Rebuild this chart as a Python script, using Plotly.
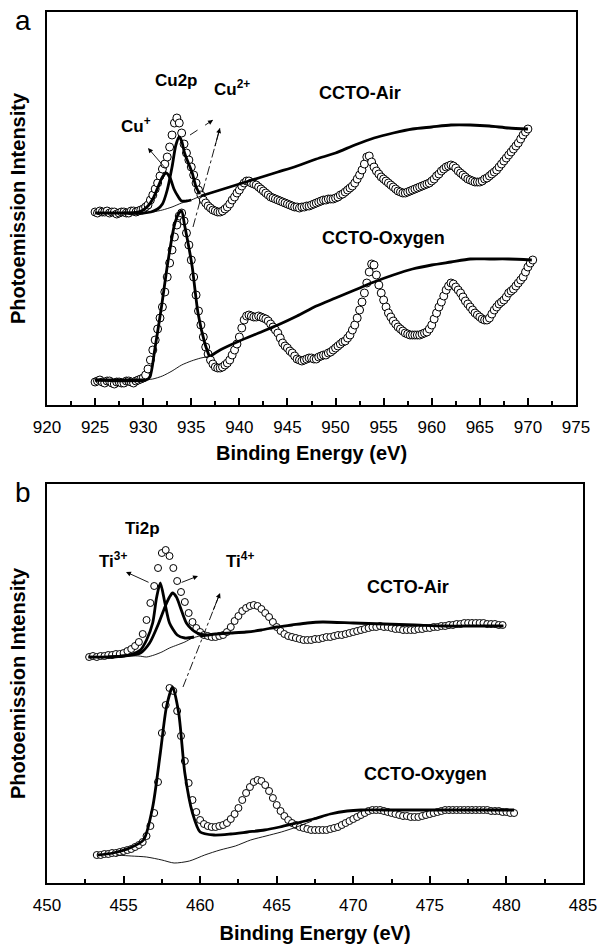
import plotly.graph_objects as go

# ---------------- Panel a : Cu2p ----------------
E_top = [925.0, 925.25, 925.5, 925.75, 926.0, 926.25, 926.5, 926.75,
         927.0, 927.25, 927.5, 927.75, 928.0, 928.25, 928.5, 928.75,
         929.0, 929.25, 929.5, 929.75, 930.0, 930.25, 930.5, 930.75,
         931.0, 931.25, 931.5, 931.75, 932.0, 932.25, 932.5, 932.75,
         933.0, 933.25, 933.5, 933.75, 934.0, 934.25, 934.5, 934.75,
         935.0, 935.25, 935.5, 935.75, 936.0, 936.25, 936.5, 936.75,
         937.0, 937.25, 937.5, 937.75, 938.0, 938.25, 938.5, 938.75,
         939.0, 939.25, 939.5, 939.75, 940.0, 940.25, 940.5, 940.75,
         941.0, 941.25, 941.5, 941.75, 942.0, 942.25, 942.5, 942.75,
         943.0, 943.25, 943.5, 943.75, 944.0, 944.25, 944.5, 944.75,
         945.0, 945.25, 945.5, 945.75, 946.0, 946.25, 946.5, 946.75,
         947.0, 947.25, 947.5, 947.75, 948.0, 948.25, 948.5, 948.75,
         949.0, 949.25, 949.5, 949.75, 950.0, 950.25, 950.5, 950.75,
         951.0, 951.25, 951.5, 951.75, 952.0, 952.25, 952.5, 952.75,
         953.0, 953.25, 953.5, 953.75, 954.0, 954.25, 954.5, 954.75,
         955.0, 955.25, 955.5, 955.75, 956.0, 956.25, 956.5, 956.75,
         957.0, 957.25, 957.5, 957.75, 958.0, 958.25, 958.5, 958.75,
         959.0, 959.25, 959.5, 959.75, 960.0, 960.25, 960.5, 960.75,
         961.0, 961.25, 961.5, 961.75, 962.0, 962.25, 962.5, 962.75,
         963.0, 963.25, 963.5, 963.75, 964.0, 964.25, 964.5, 964.75,
         965.0, 965.25, 965.5, 965.75, 966.0, 966.25, 966.5, 966.75,
         967.0, 967.25, 967.5, 967.75, 968.0, 968.25, 968.5, 968.75,
         969.0, 969.25, 969.5, 969.75, 970.0, 970.25, 970.5]

air_cu = [193, 192, 194, 193, 193, 194, 192, 193,
          193, 191, 192, 193, 193, 192, 192, 194,
          194, 193, 194, 195, 196, 198, 200, 205,
          210, 216, 222, 229, 236, 241, 248, 258,
          270, 282, 287, 282, 272, 261, 252, 245,
          238, 230, 222, 215, 210, 205, 202, 199,
          197, 195, 194, 193, 193, 194, 196, 198,
          201, 205, 208, 212, 215, 219, 222, 224,
          224, 222, 221, 220, 218, 216, 214, 212,
          210, 208, 207, 206, 205, 204, 203, 202,
          201, 200, 199, 198, 198, 197, 198, 198,
          199, 199, 200, 201, 202, 203, 204, 205,
          205, 206, 206, 206, 207, 208, 210, 211,
          213, 215, 217, 219, 222, 226, 230, 235,
          241, 248, 249, 243, 238, 234, 231, 228,
          226, 224, 222, 220, 218, 216, 214, 213,
          212, 212, 213, 214, 215, 216, 217, 218,
          219, 220, 221, 222, 224, 226, 229, 231,
          234, 236, 238, 239, 240, 239, 237, 234,
          232, 230, 228, 226, 225, 224, 223, 223,
          223, 224, 226, 227, 229, 231, 233, 235,
          238, 241, 244, 247, 250, 253, 256, 259,
          262, 266, 270, 273, 276, None, None]

oxy_cu = [23, 24, 25, 23, 22, 24, 24, 22,
          21, 23, 23, 22, 22, 24, 24, 23,
          22, 24, 25, 26, 27, 30, 36, 45,
          55, 65, 76, 87, 98, 113, 128, 142,
          155, 168, 180, 189, 192, 184, 172, 160,
          145, 128, 110, 94, 80, 68, 58, 51,
          45, 41, 38, 37, 37, 38, 40, 42,
          45, 50, 55, 61, 68, 77, 85, 89,
          90, 89, 88, 88, 89, 88, 87, 86,
          84, 81, 78, 75, 72, 67, 62, 59,
          57, 54, 52, 49, 46, 45, 44, 45,
          46, 47, 47, 46, 46, 48, 49, 50,
          50, 52, 53, 55, 57, 59, 61, 63,
          64, 67, 70, 75, 80, 87, 95, 103,
          112, 122, 133, 141, 140, 130, 120, 112,
          105, 98, 92, 88, 84, 81, 78, 76,
          74, 72, 71, 70, 70, 70, 70, 70,
          71, 72, 73, 76, 80, 86, 92, 98,
          103, 109, 115, 119, 122, 121, 118, 115,
          112, 108, 104, 101, 98, 95, 92, 90,
          88, 86, 85, 85, 87, 91, 95, 98,
          101, 103, 105, 108, 112, 114, 116, 119,
          122, 125, 128, 133, 138, 142, 145]

# fitted components, CCTO-Air (Cu2p)
E_cup = [928, 929, 929.8, 930.5, 931.0, 931.5, 932.0, 932.4, 932.8, 933.2, 933.6, 934.0, 934.5, 935.0]
cup_fit = [192, 192, 194, 199, 206, 217, 228, 232, 227, 216, 209, 204, 204, 205]
E_cu2 = [929, 930, 930.8, 931.5, 932.0, 932.5, 933.0, 933.4, 933.75, 934.0, 934.3, 934.7, 935.1, 935.5, 935.9]
cu2_fit = [192, 192, 193, 196, 201, 215, 238, 260, 268, 264, 252, 242, 232, 218, 211]
E_air_bg = [925, 928, 930, 931, 932, 933, 934, 935, 936, 938, 940, 942, 944, 946, 948,
            950, 952, 954, 956, 958, 960, 962, 964, 966, 968, 970]
air_bg = [192, 192, 192, 193, 195, 198, 202, 205, 209, 215, 221, 227, 233, 239, 246,
          252, 260, 267, 272, 276, 278, 280, 280, 279, 277, 276]

# fitted envelope, CCTO-Oxygen (Cu2p)
E_oxy_fit = [925, 930.3, 930.7, 931.2, 931.9, 932.6, 933.3, 933.8, 934.0, 934.3, 934.8, 935.1, 935.7, 936.4, 936.9]
oxy_fit = [25, 25, 28, 55, 98, 145, 182, 193, 194, 180, 155, 138, 92, 62, 48]
E_oxy_bg = [925, 930, 931, 932, 933, 934, 935, 936, 937, 938, 940, 942, 944, 946, 948,
            950, 952, 954, 956, 958, 960, 962, 964, 966, 968, 970.4]
oxy_bg = [25, 25, 26, 29, 34, 40, 44, 47, 49, 55, 64, 72, 80, 89, 99,
          107, 115, 123, 130, 136, 140, 143, 146, 146, 146, 145]

# ---------------- Panel b : Ti2p ----------------
E_bot = [452.75, 453.0, 453.25, 453.5, 453.75, 454.0, 454.25, 454.5, 454.75, 455.0,
         455.25, 455.5, 455.75, 456.0, 456.25, 456.5, 456.75, 457.0, 457.25, 457.5,
         457.75, 458.0, 458.25, 458.5, 458.75, 459.0, 459.25, 459.5, 459.75, 460.0,
         460.25, 460.5, 460.75, 461.0, 461.25, 461.5, 461.75, 462.0, 462.25, 462.5,
         462.75, 463.0, 463.25, 463.5, 463.75, 464.0, 464.25, 464.5, 464.75, 465.0,
         465.25, 465.5, 465.75, 466.0, 466.25, 466.5, 466.75, 467.0, 467.25, 467.5,
         467.75, 468.0, 468.25, 468.5, 468.75, 469.0, 469.25, 469.5, 469.75, 470.0,
         470.25, 470.5, 470.75, 471.0, 471.25, 471.5, 471.75, 472.0, 472.25, 472.5,
         472.75, 473.0, 473.25, 473.5, 473.75, 474.0, 474.25, 474.5, 474.75, 475.0,
         475.25, 475.5, 475.75, 476.0, 476.25, 476.5, 476.75, 477.0, 477.25, 477.5,
         477.75, 478.0, 478.25, 478.5, 478.75, 479.0, 479.25, 479.5, 479.75, 480.0,
         480.25, 480.5]

air_ti = [226, 227, 226, 227, 227, 228, 228, 229, 229, 230,
          232, 234, 237, 241, 249, 263, 280, 297, 315, 330,
          333, 327, 315, 302, 291, 281, 270, 261, 255, 251,
          248, 247, 246, 246, 247, 248, 251, 256, 262, 267,
          272, 275, 277, 278, 277, 274, 270, 266, 261, 256,
          252, 249, 247, 246, 245, 244, 243, 243, 243, 244,
          244, 245, 246, 246, 247, 248, 248, 249, 250, 251,
          252, 253, 254, 255, 256, 256, 257, 256, 256, 255,
          254, 254, 253, 253, 253, 253, 254, 254, 255, 255,
          256, 256, 257, 257, 258, 258, 259, 259, 260, 260,
          260, 260, 260, 260, 259, 259, 259, 258, 258, None,
          None, None]

oxy_ti = [None, None, 28, 28, 29, 29, 30, 30, 31, 32,
          33, 34, 36, 38, 41, 47, 57, 70, 101, 150,
          178, 195, 192, 172, 147, 122, 100, 83, 71, 63,
          59, 57, 56, 56, 57, 58, 60, 64, 69, 75,
          83, 90, 96, 101, 103, 102, 98, 92, 85, 78,
          72, 67, 63, 60, 58, 56, 55, 54, 53, 53,
          53, 53, 53, 54, 55, 56, 58, 60, 62, 64,
          66, 68, 70, 72, 73, 73, 73, 72, 71, 70,
          69, 68, 67, 67, 66, 66, 66, 67, 68, 69,
          70, 71, 72, 73, 73, 73, 73, 73, 73, 73,
          73, 73, 73, 73, 73, 72, 72, 72, 71, 71,
          70, 70]

E_ti3 = [454, 455, 455.6, 456.1, 456.5, 456.9, 457.15, 457.4, 457.7, 458.0, 458.5, 459.0, 459.6]
ti3_fit = [226, 227, 229, 233, 243, 260, 285, 300, 280, 260, 248, 245, 246]
E_ti4 = [455, 456.1, 456.7, 457.3, 457.7, 458.0, 458.2, 458.45, 458.7, 459.1, 459.5, 459.8, 460.3]
ti4_fit = [227, 230, 240, 260, 276, 286, 290, 286, 276, 260, 253, 250, 248]
E_air_ti_bg = [452.7, 454, 455, 456, 456.5, 457, 457.5, 458, 458.5, 459, 459.5, 460, 461, 462,
               463, 464, 465, 466, 467, 468, 470, 472, 474, 476, 478, 479.8]
air_ti_bg = [226, 226, 227, 227, 226, 228, 231, 235, 238, 241, 245, 247, 249, 250,
             251, 253, 256, 258, 260, 261, 260, 259, 258, 257, 257, 257]

E_oxy_ti_fit = [453.3, 454.3, 455.4, 456.3, 456.9, 457.4, 457.8, 458.2, 458.6, 459.0, 459.5, 460.0,
                460.9, 462.0, 463.1, 464.2, 465.2, 466.3, 467.4, 468.5, 469.6, 470.5, 472, 474,
                476, 478, 480.5]
oxy_ti_fit = [28, 30, 35, 43, 76, 130, 176, 196, 170, 110, 70, 51,
              48, 49, 51, 53, 56, 60, 64, 69, 72, 73, 73, 73,
              73, 73, 73]
E_oxy_ti_bg = [454.5, 455.5, 456.5, 457.5, 458.3, 459.3, 460.3, 461.3, 462.3, 463.3, 464.3, 465.3, 466.3, 467.3]
oxy_ti_bg = [28, 27, 26, 23, 20, 22, 28, 33, 37, 43, 47, 51, 56, 62]

FONT = "Liberation Sans, Arial, Helvetica, sans-serif"
W, H = 599, 945


def keep(E, V, lo, hi):
    """values only outside (lo, hi) -> thick segments of a baseline"""
    return [v if (e <= lo or e >= hi) else None for e, v in zip(E, V)]


fig = go.Figure()

marker_top = dict(symbol="circle", size=8, color="white", line=dict(color="black", width=1))
marker_bot = dict(symbol="circle", size=7, color="white", line=dict(color="black", width=1))
thick = dict(color="black", width=2.8, shape="spline", smoothing=0.7)
thin = dict(color="black", width=0.9, shape="spline", smoothing=0.7)

# --- panel a traces
for ys in (air_cu, oxy_cu):
    fig.add_trace(go.Scatter(x=E_top, y=ys, mode="markers", marker=marker_top,
                             xaxis="x", yaxis="y", hoverinfo="skip"))
for E, V in ((E_air_bg, air_bg), (E_oxy_bg, oxy_bg)):
    fig.add_trace(go.Scatter(x=E, y=V, mode="lines", line=thin, xaxis="x", yaxis="y"))
fig.add_trace(go.Scatter(x=E_air_bg, y=keep(E_air_bg, air_bg, 930, 936), mode="lines",
                         line=thick, xaxis="x", yaxis="y"))
fig.add_trace(go.Scatter(x=E_oxy_bg, y=keep(E_oxy_bg, oxy_bg, 930, 937), mode="lines",
                         line=thick, xaxis="x", yaxis="y"))
for E, V in ((E_cup, cup_fit), (E_cu2, cu2_fit), (E_oxy_fit, oxy_fit)):
    fig.add_trace(go.Scatter(x=E, y=V, mode="lines", line=thick, xaxis="x", yaxis="y"))

# --- panel b traces
for ys in (air_ti, oxy_ti):
    fig.add_trace(go.Scatter(x=E_bot, y=ys, mode="markers", marker=marker_bot,
                             xaxis="x2", yaxis="y2", hoverinfo="skip"))
for E, V in ((E_air_ti_bg, air_ti_bg), (E_oxy_ti_bg, oxy_ti_bg)):
    fig.add_trace(go.Scatter(x=E, y=V, mode="lines", line=thin, xaxis="x2", yaxis="y2"))
fig.add_trace(go.Scatter(x=E_air_ti_bg, y=keep(E_air_ti_bg, air_ti_bg, 455, 460), mode="lines",
                         line=thick, xaxis="x2", yaxis="y2"))
for E, V in ((E_ti3, ti3_fit), (E_ti4, ti4_fit), (E_oxy_ti_fit, oxy_ti_fit)):
    fig.add_trace(go.Scatter(x=E, y=V, mode="lines", line=thick, xaxis="x2", yaxis="y2"))

# --- arrows (tail -> head, data coords)
arrows = [
    ("x", "y", (932.47, 235), (930.5, 257), None),
    ("x", "y", (934.87, 270), (937.26, 285), "dash"),
    ("x", "y", (935.18, 178), (937.98, 277), "dashdot"),
    ("x2", "y2", (456.73, 300), (455.16, 311), None),
    ("x2", "y2", (458.69, 300), (459.86, 307), None),
    ("x2", "y2", (458.88, 196), (461.30, 290), "dashdot"),
]
shapes = []
annotations = []
for xr, yr, tail, head, dash in arrows:
    if dash:
        shapes.append(dict(type="line", xref=xr, yref=yr, x0=tail[0], y0=tail[1],
                           x1=head[0], y1=head[1],
                           line=dict(color="black", width=0.9, dash=dash)))
        t = 0.2
        tx = head[0] + t * (tail[0] - head[0])
        ty = head[1] + t * (tail[1] - head[1])
    else:
        tx, ty = tail
    annotations.append(dict(x=head[0], y=head[1], ax=tx, ay=ty, xref=xr, yref=yr,
                            axref=xr, ayref=yr, text="", showarrow=True,
                            arrowhead=2, arrowsize=1.1, arrowwidth=0.9, arrowcolor="black"))


def label(px, py, text, size=17, bold=True):
    annotations.append(dict(x=px / W, y=1 - py / H, xref="paper", yref="paper",
                            text=("<b>%s</b>" % text) if bold else text, showarrow=False,
                            xanchor="center", yanchor="middle",
                            font=dict(family=FONT, size=size, color="black")))


label(23, 20, "a", size=28, bold=False)
label(23, 492, "b", size=28, bold=False)
label(176, 80, "Cu2p")
label(232, 88, "Cu<sup>2+</sup>")
label(136, 125, "Cu<sup>+</sup>")
label(360, 93, "CCTO-Air", size=18)
label(383, 238, "CCTO-Oxygen", size=18)
label(142, 528, "Ti2p")
label(113, 560, "Ti<sup>3+</sup>")
label(240, 560, "Ti<sup>4+</sup>")
label(408, 587, "CCTO-Air", size=18)
label(425, 774, "CCTO-Oxygen", size=18)

xcommon = dict(showline=True, linewidth=2, linecolor="black", mirror=True,
               ticks="inside", ticklen=7, tickwidth=1.5, tickcolor="black",
               showgrid=False, zeroline=False, dtick=5,
               minor=dict(ticks="inside", ticklen=4, tickwidth=1.5, tickcolor="black", dtick=2.5,
                          showgrid=False),
               tickfont=dict(family=FONT, size=17, color="black"),
               ticklabelstandoff=6, automargin=False)
ycommon = dict(showline=True, linewidth=2, linecolor="black", mirror=True,
               ticks="", showticklabels=False, showgrid=False, zeroline=False,
               automargin=False)

fig.update_layout(
    width=W, height=H, margin=dict(l=0, r=0, t=0, b=0),
    paper_bgcolor="white", plot_bgcolor="white", showlegend=False,
    font=dict(family=FONT, color="black"),
    xaxis=dict(domain=[47 / W, 576 / W], range=[920, 975], tick0=920, anchor="y",
               title=dict(text="<b>Binding Energy (eV)</b>", standoff=10,
                          font=dict(family=FONT, size=20)), **xcommon),
    yaxis=dict(domain=[1 - 405 / H, 1 - 12 / H], range=[0, 393], anchor="x",
               title=dict(text="<b>Photoemission Intensity</b>", standoff=14,
                          font=dict(family=FONT, size=20)), **ycommon),
    xaxis2=dict(domain=[47 / W, 583 / W], range=[450, 485], tick0=450, anchor="y2",
                title=dict(text="<b>Binding Energy (eV)</b>", standoff=12,
                           font=dict(family=FONT, size=20)), **xcommon),
    yaxis2=dict(domain=[1 - 883 / H, 1 - 484 / H], range=[0, 399], anchor="x2",
                title=dict(text="<b>Photoemission Intensity</b>", standoff=14,
                           font=dict(family=FONT, size=20)), **ycommon),
    shapes=shapes, annotations=annotations,
)

fig.write_html("out.html")
